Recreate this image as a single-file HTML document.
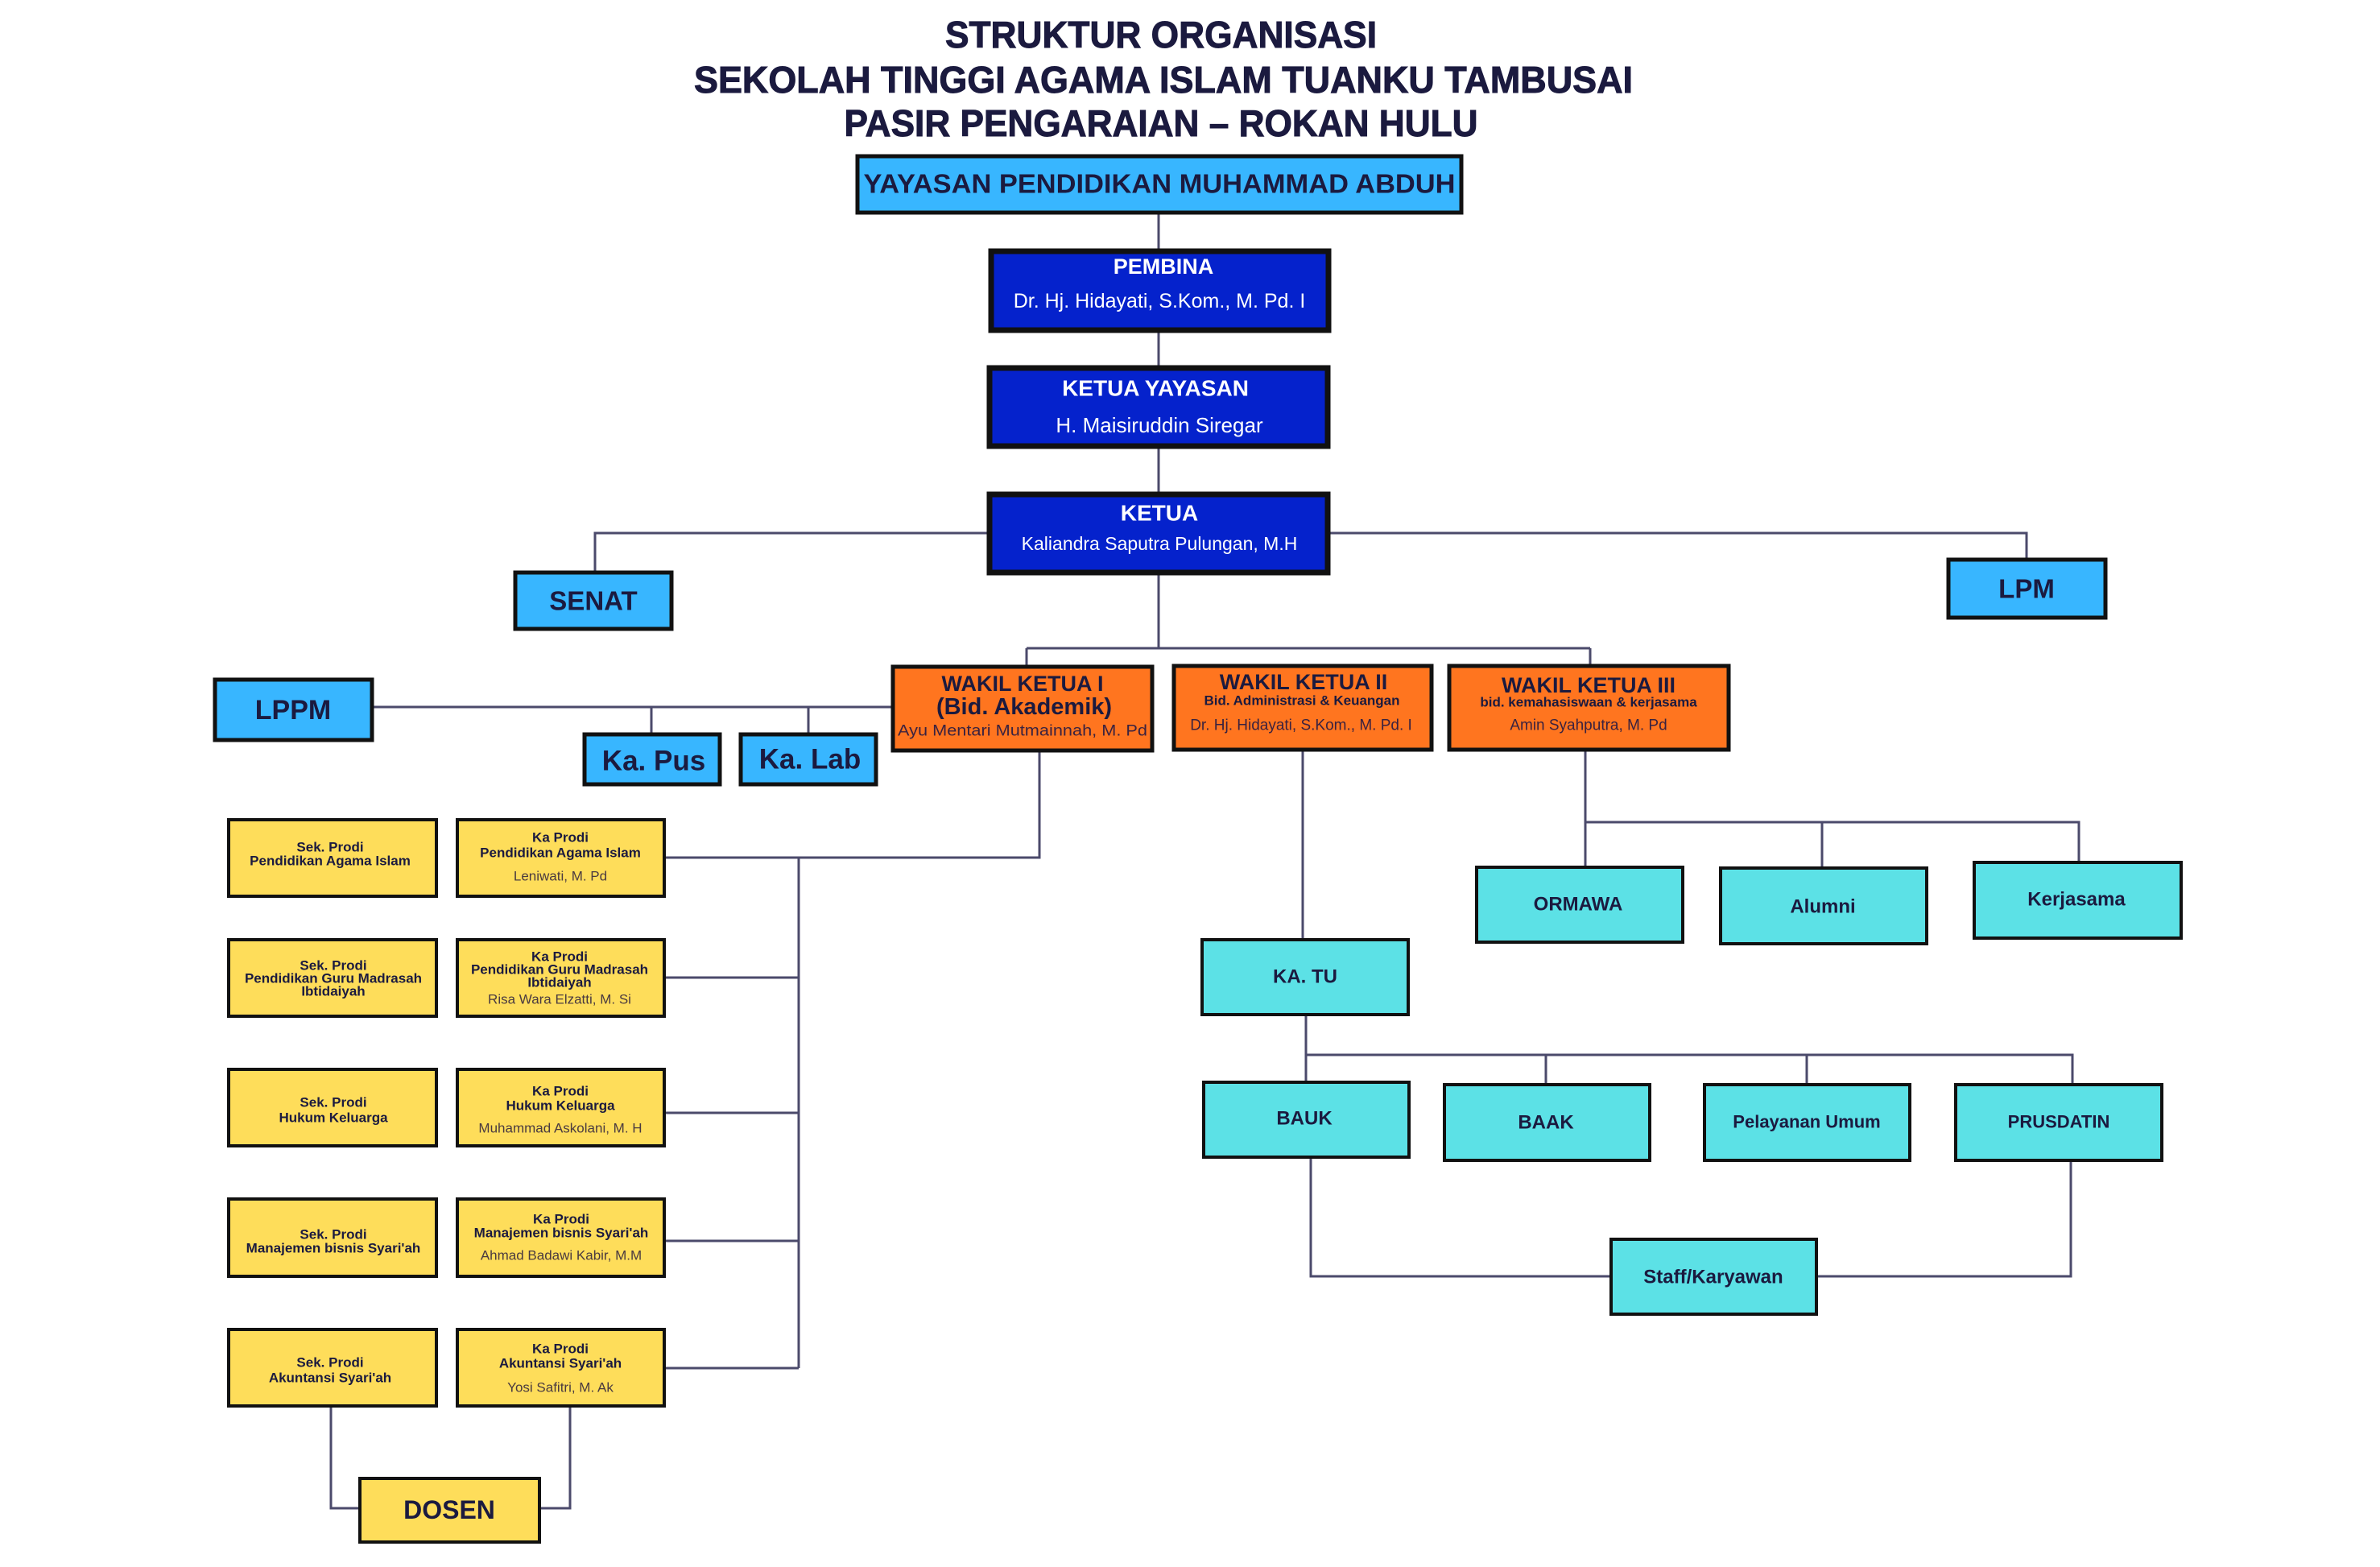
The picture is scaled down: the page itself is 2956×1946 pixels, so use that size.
<!DOCTYPE html>
<html><head><meta charset="utf-8"><style>
html,body{margin:0;padding:0;background:#fff;width:2956px;height:1946px;overflow:hidden}
svg{display:block}
text{font-family:"Liberation Sans",sans-serif;dominant-baseline:central;text-anchor:middle}
.b{font-weight:bold}
</style></head><body>
<svg width="2956" height="1946" viewBox="0 0 2956 1946" xmlns="http://www.w3.org/2000/svg">
<g fill="#1b1a3f" class="b" font-weight="bold" stroke="#1b1a3f" stroke-width="1">
<text x="1442" y="43" font-size="46" textLength="536" lengthAdjust="spacingAndGlyphs">STRUKTUR ORGANISASI</text>
<text x="1445" y="99" font-size="46" textLength="1166" lengthAdjust="spacingAndGlyphs">SEKOLAH TINGGI AGAMA ISLAM TUANKU TAMBUSAI</text>
<text x="1442" y="153" font-size="46" textLength="787" lengthAdjust="spacingAndGlyphs">PASIR PENGARAIAN – ROKAN HULU</text>
</g>
<g stroke="#4b4a6b" stroke-width="3" fill="none">
<path d="M1439 266V310M1439 412V455M1439 556V612M1439 713V805M1275 805H1975M1275 805V828M1975 805V827"/>
<path d="M1229 662H739V711M1652 662H2517V695"/>
<path d="M462 878H1109M809 878V912M1004 878V912"/>
<path d="M1291 932V1065H824M992 1065V1699M824 1214H992M824 1382H992M824 1541H992M824 1699H992"/>
<path d="M411 1746V1873H447M708 1746V1873H670"/>
<path d="M1618 931V1167M1969 931V1077M1969 1021H2582V1071M2263 1021V1078"/>
<path d="M1622 1260V1344M1622 1310H2574V1347M1920 1310V1347M2244 1310V1347"/>
<path d="M1628 1437V1585H2001M2572 1441V1585H2256"/>
</g>
<g stroke="#111" stroke-width="5">
<rect x="1065" y="194" width="750" height="70" fill="#38b6ff"/>
<rect x="1231" y="312" width="419" height="98" fill="#0522cc" stroke-width="7"/>
<rect x="1229" y="457" width="420" height="97" fill="#0522cc" stroke-width="7"/>
<rect x="1229" y="614" width="420" height="97" fill="#0522cc" stroke-width="7"/>
<rect x="640" y="711" width="194" height="70" fill="#38b6ff"/>
<rect x="2420" y="695" width="195" height="72" fill="#38b6ff"/>
<rect x="267" y="844" width="195" height="75" fill="#38b6ff"/>
<rect x="726" y="912" width="168" height="62" fill="#38b6ff"/>
<rect x="920" y="912" width="168" height="62" fill="#38b6ff"/>
<rect x="1109" y="828" width="322" height="104" fill="#ff751f"/>
<rect x="1458" y="827" width="320" height="104" fill="#ff751f"/>
<rect x="1800" y="827" width="347" height="104" fill="#ff751f"/>
</g>
<g stroke="#111" stroke-width="4" fill="#fedd5a">
<rect x="284" y="1018" width="258" height="95"/><rect x="568" y="1018" width="257" height="95"/>
<rect x="284" y="1167" width="258" height="95"/><rect x="568" y="1167" width="257" height="95"/>
<rect x="284" y="1328" width="258" height="95"/><rect x="568" y="1328" width="257" height="95"/>
<rect x="284" y="1489" width="258" height="96"/><rect x="568" y="1489" width="257" height="96"/>
<rect x="284" y="1651" width="258" height="95"/><rect x="568" y="1651" width="257" height="95"/>
<rect x="447" y="1836" width="223" height="79"/>
</g>
<g stroke="#111" stroke-width="4" fill="#5ce1e6">
<rect x="1493" y="1167" width="256" height="93"/>
<rect x="1834" y="1077" width="256" height="93"/>
<rect x="2137" y="1078" width="256" height="94"/>
<rect x="2452" y="1071" width="257" height="94"/>
<rect x="1495" y="1344" width="255" height="93"/>
<rect x="1794" y="1347" width="255" height="94"/>
<rect x="2117" y="1347" width="255" height="94"/>
<rect x="2429" y="1347" width="256" height="94"/>
<rect x="2001" y="1539" width="255" height="93"/>
</g>
<text x="1440" y="228" font-size="33" class="b" fill="#1b1a3f" textLength="735" lengthAdjust="spacingAndGlyphs">YAYASAN PENDIDIKAN MUHAMMAD ABDUH</text>
<g fill="#fff">
<text x="1445" y="331" font-size="27" class="b">PEMBINA</text>
<text x="1440" y="374" font-size="25">Dr. Hj. Hidayati, S.Kom., M. Pd. I</text>
<text x="1435" y="482" font-size="28" class="b">KETUA YAYASAN</text>
<text x="1440" y="528" font-size="26">H. Maisiruddin Siregar</text>
<text x="1440" y="637" font-size="28" class="b">KETUA</text>
<text x="1440" y="675" font-size="23">Kaliandra Saputra Pulungan, M.H</text>
</g>
<g fill="#1b1a3f" class="b" font-weight="bold">
<text x="737" y="746" font-size="33">SENAT</text>
<text x="2517" y="731" font-size="33">LPM</text>
<text x="364" y="882" font-size="34">LPPM</text>
<text x="812" y="945" font-size="35">Ka. Pus</text>
<text x="1006" y="943" font-size="35">Ka. Lab</text>
<text x="1270" y="849" font-size="27">WAKIL KETUA I</text>
<text x="1272" y="878" font-size="29">(Bid. Akademik)</text>
<text x="1619" y="847" font-size="27">WAKIL KETUA II</text>
<text x="1617" y="870" font-size="17">Bid. Administrasi &amp; Keuangan</text>
<text x="1973" y="851" font-size="27">WAKIL KETUA III</text>
<text x="1973" y="872" font-size="17">bid. kemahasiswaan &amp; kerjasama</text>
</g>
<g fill="#3a2240" font-size="19">
<text x="1270" y="908" textLength="310" lengthAdjust="spacingAndGlyphs">Ayu Mentari Mutmainnah, M. Pd</text>
<text x="1616" y="901">Dr. Hj. Hidayati, S.Kom., M. Pd. I</text>
<text x="1973" y="901">Amin Syahputra, M. Pd</text>
</g>
<g fill="#1b1a3f" class="b" font-weight="bold" font-size="17">
<text x="410" y="1052">Sek. Prodi</text><text x="410" y="1069">Pendidikan Agama Islam</text>
<text x="696" y="1040">Ka Prodi</text><text x="696" y="1059">Pendidikan Agama Islam</text>
<text x="414" y="1199">Sek. Prodi</text><text x="414" y="1215">Pendidikan Guru Madrasah</text><text x="414" y="1231">Ibtidaiyah</text>
<text x="695" y="1188">Ka Prodi</text><text x="695" y="1204">Pendidikan Guru Madrasah</text><text x="695" y="1220">Ibtidaiyah</text>
<text x="414" y="1369">Sek. Prodi</text><text x="414" y="1388">Hukum Keluarga</text>
<text x="696" y="1355">Ka Prodi</text><text x="696" y="1373">Hukum Keluarga</text>
<text x="414" y="1533">Sek. Prodi</text><text x="414" y="1550">Manajemen bisnis Syari'ah</text>
<text x="697" y="1514">Ka Prodi</text><text x="697" y="1531">Manajemen bisnis Syari'ah</text>
<text x="410" y="1692">Sek. Prodi</text><text x="410" y="1711">Akuntansi Syari'ah</text>
<text x="696" y="1675">Ka Prodi</text><text x="696" y="1693">Akuntansi Syari'ah</text>
<text x="558" y="1875" font-size="32">DOSEN</text>
</g>
<g fill="#4a3a40" font-size="17">
<text x="696" y="1088">Leniwati, M. Pd</text>
<text x="695" y="1241">Risa Wara Elzatti, M. Si</text>
<text x="696" y="1401">Muhammad Askolani, M. H</text>
<text x="697" y="1559">Ahmad Badawi Kabir, M.M</text>
<text x="696" y="1723">Yosi Safitri, M. Ak</text>
</g>
<g fill="#1b1a3f" class="b" font-weight="bold" font-size="24">
<text x="1621" y="1213">KA. TU</text>
<text x="1960" y="1123">ORMAWA</text>
<text x="2264" y="1126">Alumni</text>
<text x="2579" y="1117">Kerjasama</text>
<text x="1620" y="1389">BAUK</text>
<text x="1920" y="1394">BAAK</text>
<text x="2244" y="1393" font-size="22">Pelayanan Umum</text>
<text x="2557" y="1393" font-size="22">PRUSDATIN</text>
<text x="2128" y="1586">Staff/Karyawan</text>
</g>
</svg>
</body></html>
